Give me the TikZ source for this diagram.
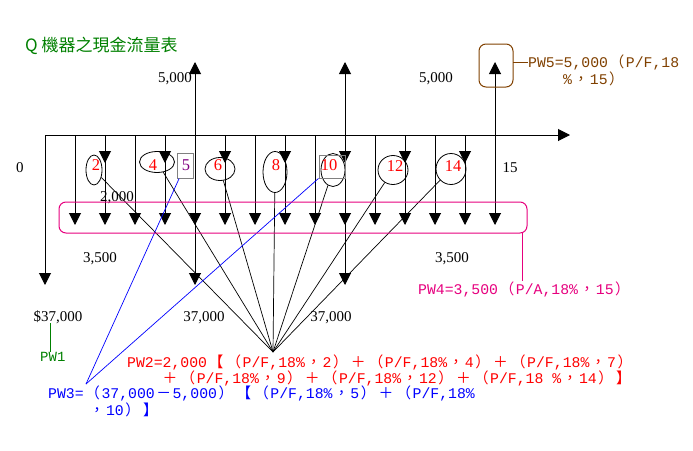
\documentclass[tikz,border=0pt]{standalone}
\usepackage{fontspec}
\setmainfont{Liberation Serif}
\newfontfamily\monofont{Liberation Mono}
\newfontfamily\cjk{Noto Sans CJK TC}
\usetikzlibrary{arrows.meta,shapes.geometric}
\definecolor{pwred}{RGB}{255,0,0}
\definecolor{pwblue}{RGB}{0,0,255}
\definecolor{pwpink}{RGB}{230,0,126}
\definecolor{pwbrown}{RGB}{128,64,0}
\definecolor{pwgreen}{RGB}{0,128,0}
\definecolor{pwpurple}{RGB}{128,0,128}
% full width signs
\newcommand\fw[1]{\makebox[17.8pt][c]{\cjk #1}}
\newcommand\fwl{\fw{（}}
\newcommand\fwr{\fw{）}}
\newcommand\fwc{\fw{，}}
\newcommand\fwp{\fw{＋}}
\newcommand\fwm{\fw{－}}
\newcommand\fwbl{\fw{【}}
\newcommand\fwbr{\fw{】}}
\tikzset{
  cash/.style={line width=1pt,-{Triangle[width=12pt,length=12pt]}},
  amt/.style={font=\fontsize{15}{17}\selectfont,inner sep=0pt,anchor=base},
  yr/.style={text=pwred,font=\fontsize{16.5}{18}\selectfont,inner sep=0pt},
  ring/.style={draw,ellipse,inner sep=0pt,line width=0.8pt},
  yrbox/.style={draw=gray,line width=1pt,inner sep=0pt},
  pwtext/.style={font=\monofont\fontsize{14.8}{17}\selectfont,inner sep=0pt,anchor=base west},
}
\begin{document}
\begin{tikzpicture}[x=1pt,y=-1pt]
 	\useasboundingbox (0,0) rectangle (693,450);
 	\node[anchor=west,text=pwgreen,font=\cjk\fontsize{17}{20}\selectfont,inner sep=0pt] (title) at (25,46) {Q 機器之現金流量表};
 	
 	% time line
 	\foreach \i in {0,...,15} {
 		\coordinate (t\i) at (45+30*\i,135);
 		\coordinate (m\i) at (45+30*\i,225);
 		\coordinate (s\i) at (45+30*\i,163);
 		\coordinate (l\i) at (45+30*\i,285);
 		\coordinate (u\i) at (45+30*\i,62);
 	}
 	\coordinate (axend) at (570,135);
 	\draw[cash] (t0) -- (axend);
 	\foreach \i in {1,...,15} \draw[cash] (t\i) -- (m\i);
 	\foreach \i in {2,4,...,14} \draw[cash] (t\i) -- (s\i);
 	\foreach \i in {0,5,10} \draw[cash] (t\i) -- (l\i);
 	\foreach \i in {5,10,15} \draw[cash] (t\i) -- (u\i);
 	
 	% amounts
 	\node[amt] (up5) at (175,82) {5,000};
 	\node[amt] (up10) at (436,82) {5,000};
 	\node[amt] (yr0) at (20,172) {0};
 	\node[amt] (yr15) at (510,172) {15};
 	\node[amt] (two) at (117,201) {2,000};
 	\node[amt] (thra) at (100,262) {3,500};
 	\node[amt] (thrb) at (452,262) {3,500};
 	\node[amt] (dn0) at (58,321) {\$37,000};
 	\node[amt] (dn5) at (204,321) {37,000};
 	\node[amt] (dn10) at (331,321) {37,000};
 	
 	% marked years
 	\node[ring,minimum width=16pt,minimum height=30pt] (c2) at (94,170) {};
 	\node[ring,minimum width=35pt,minimum height=21pt] (c4) at (157,162) {};
 	\node[ring,minimum width=30pt,minimum height=23pt] (c6) at (220,169) {};
 	\node[ring,minimum width=24pt,minimum height=41pt] (c8) at (275,172) {};
 	\node[ring,minimum width=24pt,minimum height=33pt] (c10) at (333,170) {};
 	\node[ring,minimum width=30pt,minimum height=29pt] (c12) at (393,170) {};
 	\node[ring,minimum width=30pt,minimum height=31pt] (c14) at (451,169) {};
 	\node[yrbox,minimum width=16pt,minimum height=25pt] (b5) at (185,165.5) {};
 	\node[yrbox,minimum width=26pt,minimum height=23pt] (b10) at (332,166.5) {};
 	\node[yr] (n2) at (96,165) {2};
 	\node[yr] (n4) at (153,165) {4};
 	\node[yr,text=pwpurple] (n5) at (186,165) {5};
 	\node[yr] (n6) at (218,165) {6};
 	\node[yr] (n8) at (276,165) {8};
 	\node[yr] (n10) at (329,165) {10};
 	\node[yr] (n12) at (395,166) {12};
 	\node[yr] (n14) at (453,166) {14};
 	
 	% PW2 lines
 	\coordinate (p2) at (273,352);
 	\foreach \i in {2,4,6,8,10,12,14} \draw[line width=0.7pt] (c\i) -- (p2);
 	% PW3 lines
 	\coordinate (p3) at (86,384);
 	\draw[pwblue,line width=0.7pt] (b5) -- (p3);
 	\draw[pwblue,line width=0.7pt] (b10) -- (p3);
 	
 	% boxes
 	\node[draw=pwpink,line width=1pt,rounded corners=7pt,minimum width=468pt,minimum height=31pt] (box4) at (293,217.5) {};
 	\node[draw=pwbrown,line width=1pt,rounded corners=7pt,minimum width=34pt,minimum height=43pt] (box5) at (496,65.5) {};
 	
 	% PW texts
 	\node[pwtext,text=pwgreen,font=\monofont\fontsize{14}{16}\selectfont] (pwone) at (40,361) {PW1};
 	\coordinate (k1) at (50,323);
 	\draw[pwgreen,line width=1pt] (k1) -- (k1 |- pwone.north);
 	
 	\node[pwtext,text=pwred] (pwtwoa) at (127,367) {PW2=2,000\fwbl\fwl P/F,18\%\fwc 2\fwr\fwp\fwl P/F,18\%\fwc 4\fwr\fwp\fwl P/F,18\%\fwc 7\fwr};
 	\node[pwtext,text=pwred] (pwtwob) at (161,383) {\fwp\fwl P/F,18\%\fwc 9\fwr\fwp\fwl P/F,18\%\fwc 12\fwr\fwp\fwl P/F,18 \%\fwc 14\fwr\fwbr};
 	
 	\node[pwtext,text=pwblue] (pwthra) at (48,398) {PW3=\fwl 37,000\fwm 5,000\fwr\fwbl\fwl P/F,18\%\fwc 5\fwr\fwp\fwl P/F,18\%};
 	\node[pwtext,text=pwblue] (pwthrb) at (88,415) {\fwc 10\fwr\fwbr};
 	
 	\node[pwtext,text=pwpink] (pwfour) at (418,294) {PW4=3,500\fwl P/A,18\%\fwc 15\fwr};
 	\coordinate (k4) at (522,233);
 	\draw[pwpink,line width=1pt] (k4) -- (k4 |- pwfour.north);
 	
 	\node[pwtext,text=pwbrown] (pwfivea) at (528,67) {PW5=5,000\fwl P/F,18};
 	\node[pwtext,text=pwbrown] (pwfiveb) at (563,84) {\%\fwc 15\fwr};
 	\coordinate (k5) at (513,62);
 	\draw[pwbrown,line width=1pt] (k5) -- (k5 -| pwfivea.west);
\end{tikzpicture}
\end{document}
